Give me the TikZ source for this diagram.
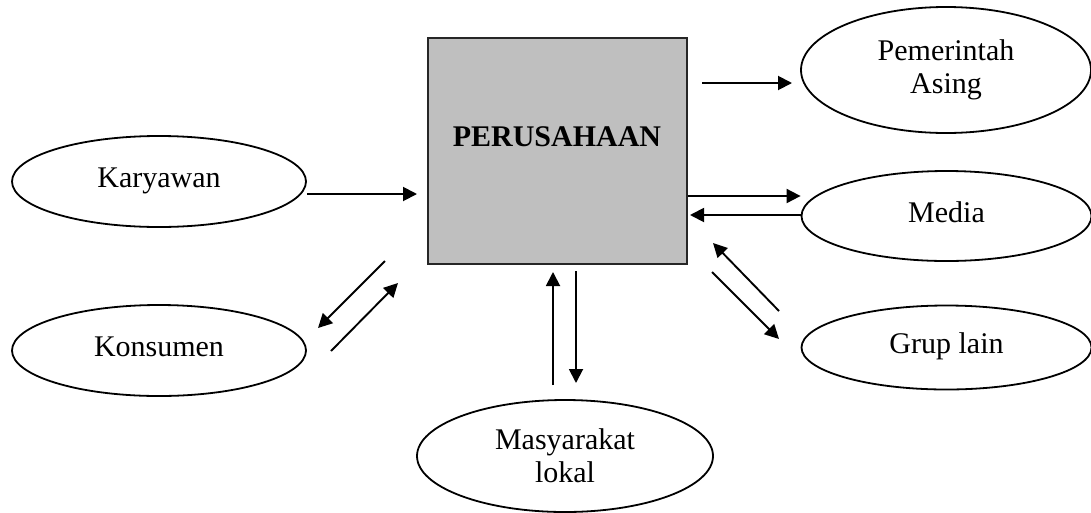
\documentclass[tikz,border=0pt]{standalone}
\usepackage{fontspec}
\setmainfont{Liberation Serif}
\usetikzlibrary{shapes.geometric,arrows.meta}
\tikzset{
	pihak/.style={draw,ellipse,line width=1.8pt,inner sep=0pt,align=center,font=\fontsize{30}{33}\selectfont},
	satubaris/.style={text height=20pt,text depth=8pt},
	panah/.style={line width=1.9pt,-{Triangle[length=14pt,width=14pt]}}
}
\begin{document}
\begin{tikzpicture}[x=1pt,y=-1pt]
	\useasboundingbox (0,0) rectangle (1091,512);
	
	\node[draw=black!85,fill=black!25,line width=2pt,minimum width=259pt,minimum height=226pt,inner sep=0pt] (perusahaan) at (557.5,151) {};
	\node[font=\bfseries\fontsize{30}{33}\selectfont] (judul) at (557,137) {PERUSAHAAN};
	
	\node[pihak,satubaris,minimum width=294pt,minimum height=91pt] (karyawan) at (159,181.5) {Karyawan};
	\node[pihak,satubaris,minimum width=294pt,minimum height=91pt] (konsumen) at (159,350.5) {Konsumen};
	\node[pihak,minimum width=290pt,minimum height=126pt] (pemerintah) at (946,70) {Pemerintah\\Asing};
	\node[pihak,satubaris,minimum width=290pt,minimum height=90pt] (media) at (946.5,216) {Media};
	\node[pihak,satubaris,minimum width=290pt,minimum height=84pt] (grup) at (946.5,347.5) {Grup lain};
	\node[pihak,minimum width=296pt,minimum height=112pt] (masyarakat) at (565,456) {Masyarakat\\lokal};
	
	\coordinate (pa1) at (702,83);  \coordinate (pa2) at (792,83);
	\coordinate (gr1) at (779,311); \coordinate (gr2) at (713,243);
	\coordinate (gr3) at (712,272); \coordinate (gr4) at (779,339);
	\coordinate (ms1) at (553,385); \coordinate (ms2) at (553,272);
	\coordinate (ms3) at (576,271); \coordinate (ms4) at (576,383);
	\coordinate (ks1) at (385,261); \coordinate (ks2) at (318,328);
	\coordinate (ks3) at (331,351); \coordinate (ks4) at (398,283);
	
	\draw[panah,shorten >=10pt] ([yshift=-12.5pt]karyawan.east) -- ([yshift=-43pt]perusahaan.west);
	\draw[panah] (pa1) -- (pa2);
	\draw[panah] ([yshift=-45pt]perusahaan.east) -- ([yshift=20pt]media.west);
	\draw[panah] ([yshift=1pt]media.west) -- ([xshift=2pt,yshift=-64pt]perusahaan.east);
	\draw[panah] (gr1) -- (gr2);
	\draw[panah] (gr3) -- (gr4);
	\draw[panah] (ms1) -- (ms2);
	\draw[panah] (ms3) -- (ms4);
	\draw[panah] (ks1) -- (ks2);
	\draw[panah] (ks3) -- (ks4);
\end{tikzpicture}
\end{document}
